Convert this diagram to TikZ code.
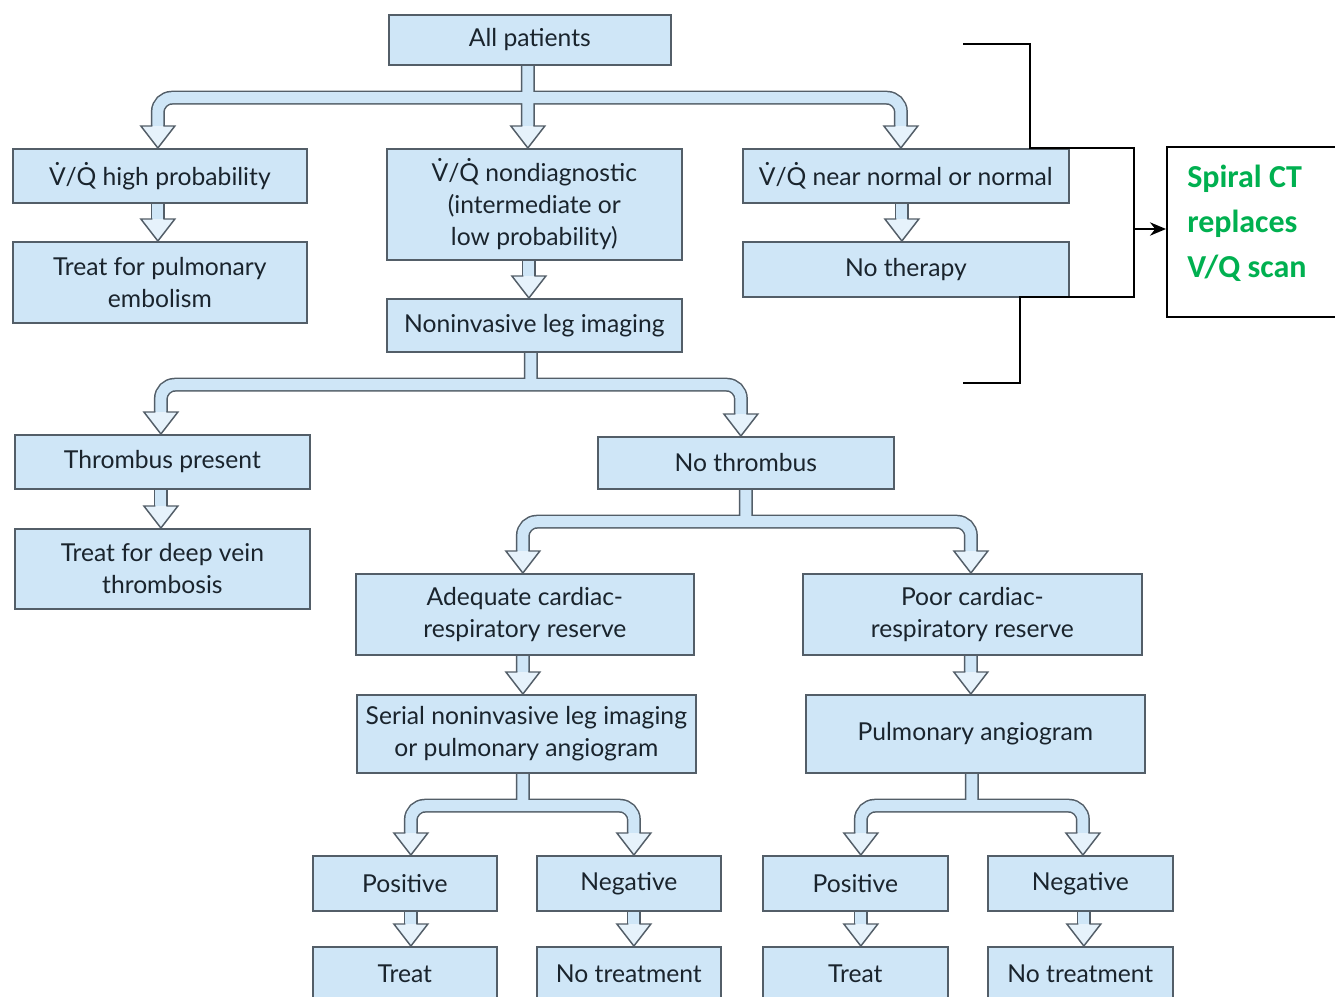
\documentclass[tikz,border=0pt]{standalone}
\usepackage{fontspec}
\setmainfont{Lato}
\newfontfamily\calib{Carlito}
\usetikzlibrary{backgrounds,calc,arrows.meta}
\definecolor{boxfill}{HTML}{CFE6F7}
\definecolor{boxline}{HTML}{535E68}
\definecolor{headfill}{HTML}{E6F2FB}
\definecolor{txt}{HTML}{1A242D}
\definecolor{ctgreen}{HTML}{00B050}
\newcommand{\px}{0.75pt}
\newcommand{\vq}{V̇/Q̇}
\newcommand{\shaft}[1]{\draw[shaftout]#1;\draw[shaftin]#1;}
\tikzset{
  box/.style={draw=boxline, fill=boxfill, line width=1.3pt, text=txt, anchor=north west,
    font=\fontsize{18.5}{24}\selectfont, align=center, inner sep=0pt},
  shaftout/.style={draw=boxline, line width=10.5pt, rounded corners=10.5pt},
  shaftin/.style={draw=boxfill, line width=8.25pt, rounded corners=10.5pt},
  ahead/.pic={
    \fill[headfill] (0,0) -- (-17,-22) -- (17,-22) -- cycle;
    \draw[boxline, line width=1.1pt, line join=miter] (-5.5,-22) -- (-17,-22) -- (0,0) -- (17,-22) -- (5.5,-22);
  },
  brk/.style={draw=black, line width=1.5pt},
}
\begin{document}
\begin{tikzpicture}[x=\px,y=-\px]
\useasboundingbox (0,0) rectangle (1335,996);
\begin{scope}
\clip (0,0) rectangle (1335,996);
\node[box, minimum width=282*\px, minimum height=50*\px] (allp) at (388,14) {All patients};
\node[box, minimum width=294*\px, minimum height=54*\px] (vqh) at (12,148) {\vq{} high probability};
\node[box, minimum width=294*\px, minimum height=81*\px] (tpe) at (12,241) {Treat for pulmonary\\embolism};
\node[box, minimum width=295*\px, minimum height=111*\px] (vqn) at (386,148) {\vq{} nondiagnostic\\(intermediate or\\low probability)};
\node[box, minimum width=295*\px, minimum height=53*\px] (nli) at (386,298) {Noninvasive leg imaging};
\node[box, minimum width=326*\px, minimum height=54*\px] (vqnn) at (742,148) {\vq{} near normal or normal};
\node[box, minimum width=326*\px, minimum height=55*\px] (nth) at (742,241) {No therapy};
\node[box, minimum width=295*\px, minimum height=54*\px] (thp) at (14,434) {Thrombus present};
\node[box, minimum width=295*\px, minimum height=80*\px] (tdvt) at (14,528) {Treat for deep vein\\thrombosis};
\node[box, minimum width=296*\px, minimum height=52*\px] (nthr) at (597,436) {No thrombus};
\node[box, minimum width=338*\px, minimum height=81*\px] (adq) at (355,573) {Adequate cardiac-\\respiratory reserve};
\node[box, minimum width=339*\px, minimum height=81*\px] (poor) at (802,573) {Poor cardiac-\\respiratory reserve};
\node[box, minimum width=339*\px, minimum height=78*\px] (ser) at (356,694) {Serial noninvasive leg imaging\\or pulmonary angiogram};
\node[box, minimum width=339*\px, minimum height=78*\px] (pa) at (805,694) {Pulmonary angiogram};
\node[box, minimum width=184*\px, minimum height=55*\px] (pos1) at (312,855) {Positive};
\node[box, minimum width=184*\px, minimum height=55*\px] (neg1) at (536,855) {Negative};
\node[box, minimum width=185*\px, minimum height=55*\px] (pos2) at (762,855) {Positive};
\node[box, minimum width=185*\px, minimum height=55*\px] (neg2) at (987,855) {Negative};
\node[box, minimum width=184*\px, minimum height=54*\px] (tr1) at (312,946) {Treat};
\node[box, minimum width=184*\px, minimum height=54*\px] (nt1) at (536,946) {No treatment};
\node[box, minimum width=185*\px, minimum height=54*\px] (tr2) at (762,946) {Treat};
\node[box, minimum width=185*\px, minimum height=54*\px] (nt2) at (987,946) {No treatment};
% Spiral CT box
\node[draw=black, line width=1.5pt, anchor=north west, minimum width=190*\px, minimum height=170*\px, inner sep=0pt] (ct) at (1166,146) {};
\node[anchor=base west, align=left, text=ctgreen, inner sep=0pt,
  font=\calib\bfseries\fontsize{24}{33.75}\selectfont] (cttext) at (1187,277) {Spiral CT\\replaces\\V/Q scan};
\end{scope}
% bracket
\coordinate (b1) at (963,44);
\coordinate (b2) at (1030,148);
\coordinate (b3) at (1134,148);
\coordinate (b4) at (1134,297);
\coordinate (b5) at (1020,297);
\coordinate (b6) at (963,383);
\coordinate (bm) at (1134,229);
\draw[brk] (b1) -| (b2) -- (b3) -- (b4) -- (b5) |- (b6);
\draw[brk, -{Stealth[length=12pt,width=10pt]}] (bm) -- (ct.west |- bm);
\begin{scope}[on background layer]
\fill[white] (0,0) rectangle (1335,996);
% group 1
\coordinate (j1) at ([xshift=-1.5pt,yshift=-24pt]allp.south);
\shaft{([xshift=-1.5pt]allp.south) -- ([xshift=-4.9pt,yshift=16.5pt]vqn.north)
  (j1) -| ([xshift=-1.5pt,yshift=16.5pt]vqh.north)
  (j1) -| ([xshift=-3.75pt,yshift=16.5pt]vqnn.north)}
\pic at ([xshift=-4.9pt]vqn.north) {ahead};
\pic at ([xshift=-1.5pt]vqh.north) {ahead};
\pic at ([xshift=-3.75pt]vqnn.north) {ahead};
% singles top
\shaft{([xshift=-1.5pt]vqh.south) -- ([xshift=-1.5pt,yshift=16.5pt]tpe.north)}
\pic at ([xshift=-1.5pt]tpe.north) {ahead};
\shaft{([xshift=-4.1pt]vqn.south) -- ([xshift=-4.1pt,yshift=16.5pt]nli.north)}
\pic at ([xshift=-4.1pt]nli.north) {ahead};
\shaft{([xshift=-3pt]vqnn.south) -- ([xshift=-3pt,yshift=16.5pt]nth.north)}
\pic at ([xshift=-3pt]nth.north) {ahead};
% group 2
\coordinate (j2) at ([xshift=-2.6pt,yshift=-24pt]nli.south);
\shaft{([xshift=-2.6pt]nli.south) -- (j2)
  (j2) -| ([xshift=-1.1pt,yshift=16.5pt]thp.north)
  (j2) -| ([xshift=-3.75pt,yshift=16.5pt]nthr.north)}
\pic at ([xshift=-1.1pt]thp.north) {ahead};
\pic at ([xshift=-3.75pt]nthr.north) {ahead};
\shaft{([xshift=-1.1pt]thp.south) -- ([xshift=-1.1pt,yshift=16.5pt]tdvt.north)}
\pic at ([xshift=-1.1pt]tdvt.north) {ahead};
% group 3
\coordinate (j3) at ([yshift=-24pt]nthr.south);
\shaft{(nthr.south) -- (j3)
  (j3) -| ([xshift=-1.5pt,yshift=16.5pt]adq.north)
  (j3) -| ([xshift=-1.1pt,yshift=16.5pt]poor.north)}
\pic at ([xshift=-1.5pt]adq.north) {ahead};
\pic at ([xshift=-1.1pt]poor.north) {ahead};
\shaft{([xshift=-1.5pt]adq.south) -- ([xshift=-2.6pt,yshift=16.5pt]ser.north)}
\pic at ([xshift=-2.6pt]ser.north) {ahead};
\shaft{([xshift=-1.1pt]poor.south) -- ([xshift=-3.4pt,yshift=16.5pt]pa.north)}
\pic at ([xshift=-3.4pt]pa.north) {ahead};
% group 4
\coordinate (j4) at ([xshift=-2.6pt,yshift=-24pt]ser.south);
\shaft{([xshift=-2.6pt]ser.south) -- (j4)
  (j4) -| ([xshift=4.5pt,yshift=16.5pt]pos1.north)
  (j4) -| ([xshift=3.75pt,yshift=16.5pt]neg1.north)}
\pic at ([xshift=4.5pt]pos1.north) {ahead};
\pic at ([xshift=3.75pt]neg1.north) {ahead};
% group 5
\coordinate (j5) at ([xshift=-2.6pt,yshift=-24pt]pa.south);
\shaft{([xshift=-2.6pt]pa.south) -- (j5)
  (j5) -| ([xshift=4.1pt,yshift=16.5pt]pos2.north)
  (j5) -| ([xshift=1.9pt,yshift=16.5pt]neg2.north)}
\pic at ([xshift=4.1pt]pos2.north) {ahead};
\pic at ([xshift=1.9pt]neg2.north) {ahead};
% bottom singles
\shaft{([xshift=4.5pt]pos1.south) -- ([xshift=4.5pt,yshift=16.5pt]tr1.north)}
\pic at ([xshift=4.5pt]tr1.north) {ahead};
\shaft{([xshift=3.75pt]neg1.south) -- ([xshift=3.75pt,yshift=16.5pt]nt1.north)}
\pic at ([xshift=3.75pt]nt1.north) {ahead};
\shaft{([xshift=4.1pt]pos2.south) -- ([xshift=4.1pt,yshift=16.5pt]tr2.north)}
\pic at ([xshift=4.1pt]tr2.north) {ahead};
\shaft{([xshift=2.6pt]neg2.south) -- ([xshift=2.6pt,yshift=16.5pt]nt2.north)}
\pic at ([xshift=2.6pt]nt2.north) {ahead};
\end{scope}
\end{tikzpicture}
\end{document}
